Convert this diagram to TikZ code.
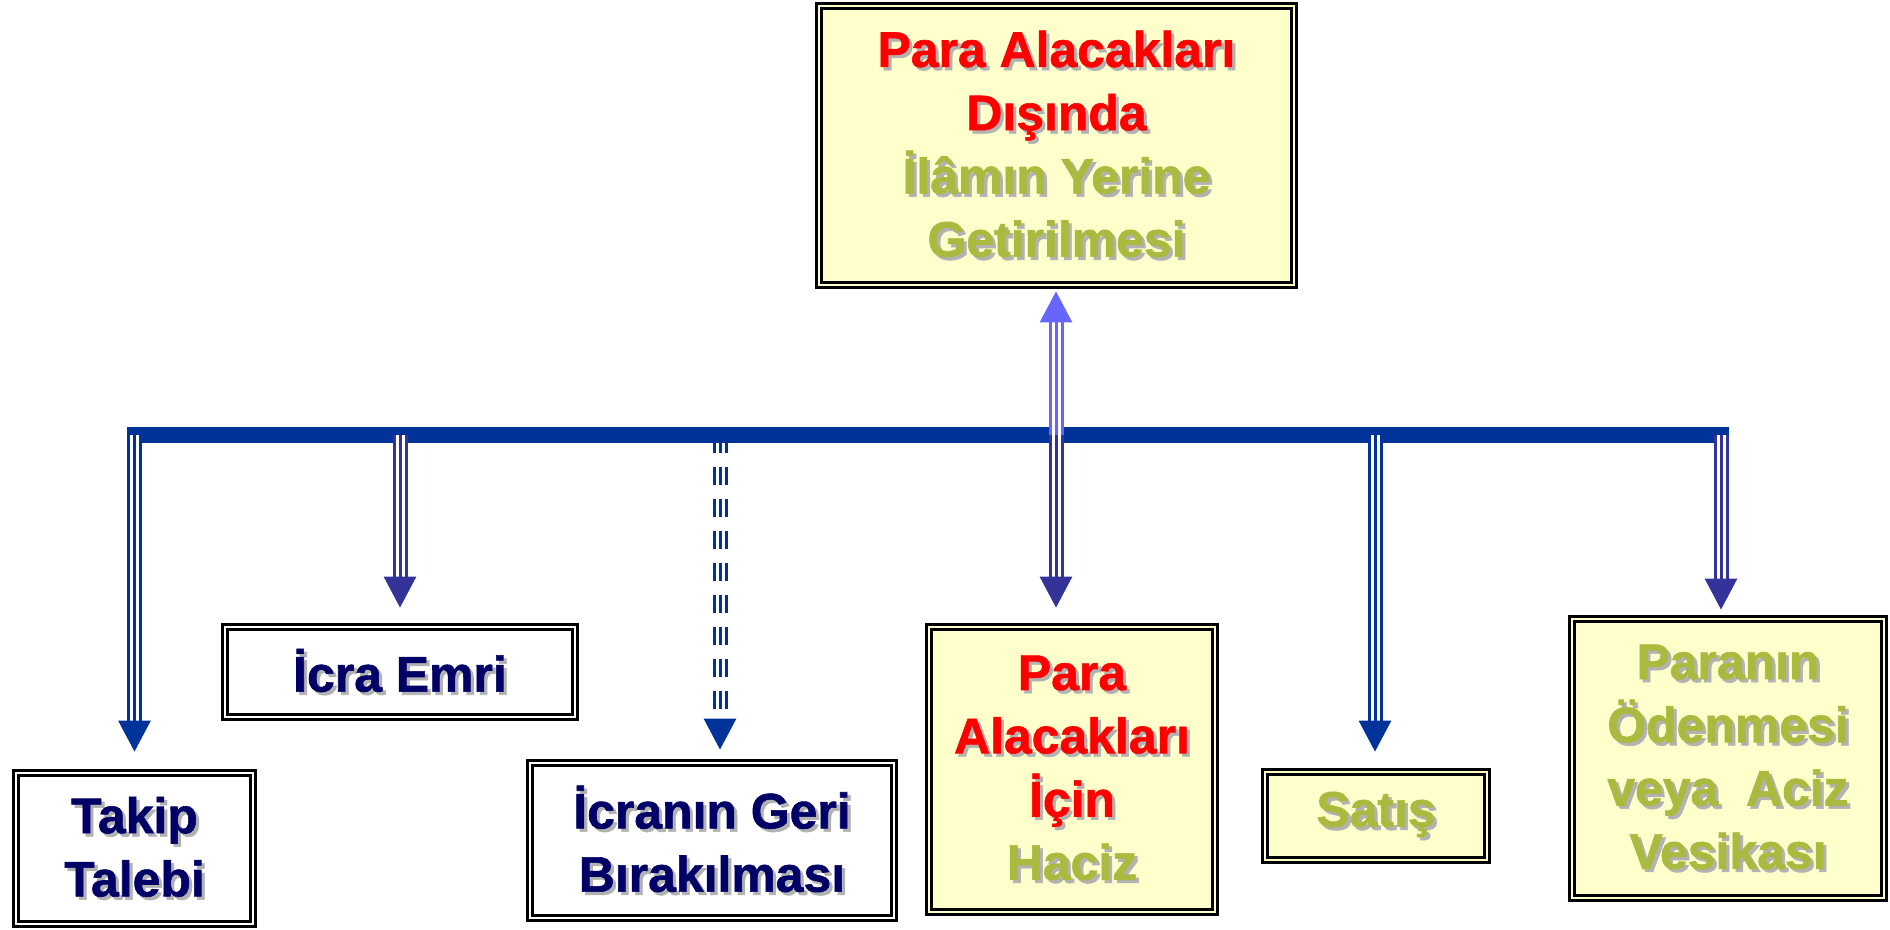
\documentclass[tikz,border=0pt]{standalone}
\usepackage{fontspec}
\setmainfont{Liberation Sans}[BoldFeatures={FakeBold=1.2}]
\usetikzlibrary{arrows.meta,positioning}

\definecolor{barblue}{HTML}{003399}
\definecolor{arrowpurple}{HTML}{333399}
\definecolor{upblue}{HTML}{6666FF}
\definecolor{boxyellow}{HTML}{FFFFCC}
\definecolor{txtred}{HTML}{FF0000}
\definecolor{txtolive}{HTML}{A9BA3E}
\definecolor{txtnavy}{HTML}{000066}

% one line of text with a soft drop shadow
\newcommand{\shtxt}[2]{\leavevmode\rlap{\kern0.9pt\raisebox{-0.9pt}{\color{black!30}#2}}\textcolor{#1}{#2}}

\begin{document}
\begin{tikzpicture}[
    box/.style={rectangle, draw=black, line width=0.8pt, double=white, double distance=0.6pt, fill=white, align=center, inner sep=0pt, font=\fontsize{14.2}{18}\selectfont\bfseries},
    ybox/.style={box, fill=boxyellow, double=boxyellow},
    shaft/.style={line width=0.03cm, double=white, double distance=0.09cm},
    arrowhead/.style={line width=0.03cm, -{Triangle[length=0.31cm,width=0.32cm]}}
]
\useasboundingbox (0,0) rectangle (18.9,-9.29);

% Top box
\node[ybox, minimum width=4.75cm, minimum height=2.79cm] (ilam) at (10.565,-1.455)
    {\shtxt{txtred}{Para Alacakları}\\\shtxt{txtred}{Dışında}\\\shtxt{txtolive}{İlâmın Yerine}\\\shtxt{txtolive}{Getirilmesi}};

% Steps
\node[box, minimum width=2.37cm, minimum height=1.51cm] (takip) at (1.345,-8.485)
    {\shtxt{txtnavy}{Takip}\\\shtxt{txtnavy}{Talebi}};
\node[box, minimum width=3.50cm, minimum height=0.90cm] (icra) at (4.00,-6.72)
    {\shtxt{txtnavy}{İcra Emri}};
\node[box, minimum width=3.64cm, minimum height=1.55cm] (icran) at (7.12,-8.405)
    {\shtxt{txtnavy}{İcranın Geri}\\\shtxt{txtnavy}{Bırakılması}};
\node[ybox, minimum width=2.86cm, minimum height=2.85cm] (haciz) at (10.72,-7.695)
    {\shtxt{txtred}{Para}\\\shtxt{txtred}{Alacakları}\\\shtxt{txtred}{İçin}\\\shtxt{txtolive}{Haciz}};
\node[ybox, minimum width=2.22cm, minimum height=0.88cm] (satis) at (13.76,-8.16)
    {\shtxt{txtolive}{Satış}};
\node[ybox, minimum width=3.12cm, minimum height=2.79cm] (odeme) at (17.28,-7.585)
    {\shtxt{txtolive}{Paranın}\\\shtxt{txtolive}{Ödenmesi}\\\shtxt{txtolive}{veya\ \ Aciz}\\\shtxt{txtolive}{Vesikası}};

% Bar and joints
\coordinate (barL) at (1.27,-4.35);
\coordinate (barR) at (17.29,-4.35);
\coordinate (j1) at (1.345,-4.35);
\coordinate (j2) at (4.00,-4.35);
\coordinate (j3) at (7.20,-4.35);
\coordinate (j4) at (10.56,-4.35);
\coordinate (j5) at (13.75,-4.35);
\coordinate (j6) at (17.21,-4.35);

% Dashed arrow (under the bar)
\draw[shaft, barblue, dash pattern=on 0.18cm off 0.14cm, shorten >=0.43cm] (j3) -- (j3 |- icran.north);
\draw[arrowhead, barblue, dash pattern=on 0.18cm off 0.14cm, shorten >=0.12cm] (j3) -- (j3 |- icran.north);

\draw[barblue, line width=0.16cm] (barL) -- (barR);

% Arrows down
\foreach \j/\b/\c/\g in {j1/takip/barblue/0.20, j2/icra/arrowpurple/0.18, j4/haciz/arrowpurple/0.18,
                         j5/satis/barblue/0.19, j6/odeme/arrowpurple/0.08} {
    \draw[shaft, \c, shorten >=\g cm+0.31cm] (\j) -- (\j |- \b.north);
    \draw[arrowhead, \c, shorten >=\g cm] (\j) -- (\j |- \b.north);
}

% Arrow up
\draw[shaft, upblue, shorten >=0.36cm] (j4) -- (j4 |- ilam.south);
\draw[arrowhead, upblue, shorten >=0.05cm] (j4) -- (j4 |- ilam.south);

\end{tikzpicture}
\end{document}
